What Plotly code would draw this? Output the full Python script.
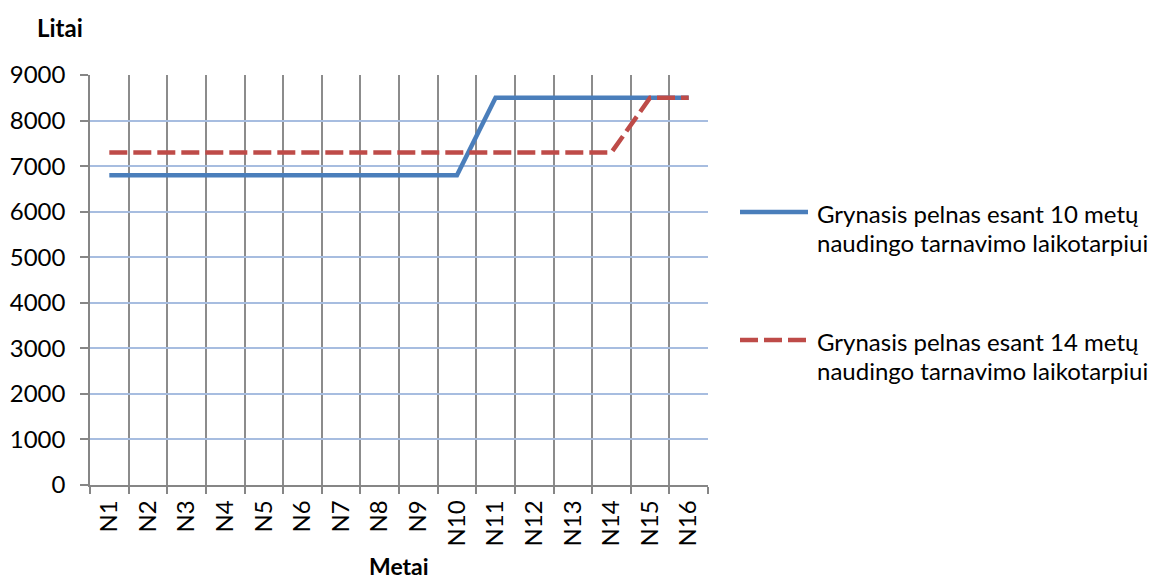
import plotly.graph_objects as go

# Years of the depreciation comparison and net profit per year (Litai)
years = ["N1", "N2", "N3", "N4", "N5", "N6", "N7", "N8", "N9", "N10",
         "N11", "N12", "N13", "N14", "N15", "N16"]
profit_10y = [6800, 6800, 6800, 6800, 6800, 6800, 6800, 6800, 6800, 6800,
              8500, 8500, 8500, 8500, 8500, 8500]
profit_14y = [7300, 7300, 7300, 7300, 7300, 7300, 7300, 7300, 7300, 7300,
              7300, 7300, 7300, 7300, 8500, 8500]
y_ticks = [0, 1000, 2000, 3000, 4000, 5000, 6000, 7000, 8000, 9000]
legend_lines = [
    ["Grynasis pelnas esant 10 metų", "naudingo tarnavimo laikotarpiui"],
    ["Grynasis pelnas esant 14 metų", "naudingo tarnavimo laikotarpiui"],
]

BLUE = "#4A7EBB"
RED = "#BE4B48"
FONT = "Lato"
FS = 24
DASH = "18px,6px"

# Plot area in pixels: x 90..708, y 75..485
L, R, T, B = 90, 708, 75, 485
W, H = 1166, 581


def px_x(x):
    return (x - L) / (R - L)


def px_y(y):
    return (B - y) / (B - T)


fig = go.Figure()
fig.add_trace(go.Scatter(x=years, y=profit_10y, mode="lines",
                         line=dict(color=BLUE, width=4.5),
                         name=" ".join(legend_lines[0]), showlegend=False))
fig.add_trace(go.Scatter(x=years, y=profit_14y, mode="lines",
                         line=dict(color=RED, width=4.5, dash=DASH),
                         name=" ".join(legend_lines[1]), showlegend=False))

fig.update_layout(
    width=W, height=H,
    margin=dict(l=L, r=W - R, t=T, b=H - B),
    paper_bgcolor="white", plot_bgcolor="white",
    font=dict(family=FONT, size=FS, color="black"),
    xaxis=dict(
        type="category", range=[-0.5, 15.5], automargin=False,
        tickson="boundaries", ticks="outside", ticklen=7,
        tickcolor="#868686", tickwidth=1.5,
        tickangle=-90, tickfont=dict(size=FS), ticklabelstandoff=4,
        showgrid=True, gridcolor="#8C8C8C", gridwidth=1.5,
        showline=True, linecolor="#868686", linewidth=1.5,
        zeroline=False,
    ),
    yaxis=dict(
        range=[0, 9000], tickvals=y_ticks, ticks="outside", ticklen=8,
        automargin=False,
        tickcolor="#868686", tickwidth=1.5, ticklabelstandoff=10,
        showgrid=True, gridcolor="#A7BDE0", gridwidth=1.5,
        showline=True, linecolor="#868686", linewidth=1.5,
        zeroline=False, tickfont=dict(size=FS),
    ),
)

# Axis titles
fig.add_annotation(text="<b>Litai</b>", xref="paper", yref="paper",
                   x=px_x(60), y=px_y(28), xanchor="center", yanchor="middle",
                   showarrow=False, font=dict(size=FS, family=FONT))
fig.add_annotation(text="<b>Metai</b>", xref="paper", yref="paper",
                   x=0.5, y=px_y(566), xanchor="center", yanchor="middle",
                   showarrow=False, font=dict(size=FS - 1, family=FONT))

# Legend drawn to the right of the plot area
legend_items = [
    (legend_lines[0], BLUE, "solid", 212, (213, 242)),
    (legend_lines[1], RED, DASH, 340, (341, 370)),
]
for lines, color, dash, ly, ty in legend_items:
    fig.add_shape(type="line", xref="paper", yref="paper",
                  x0=px_x(740), x1=px_x(808), y0=px_y(ly), y1=px_y(ly),
                  line=dict(color=color, width=4.5, dash=dash))
    for text, yy in zip(lines, ty):
        fig.add_annotation(text=text, xref="paper", yref="paper",
                           x=px_x(815), y=px_y(yy), xanchor="left",
                           yanchor="middle", align="left", showarrow=False,
                           font=dict(size=FS, family=FONT))

fig.write_html("out.html")
